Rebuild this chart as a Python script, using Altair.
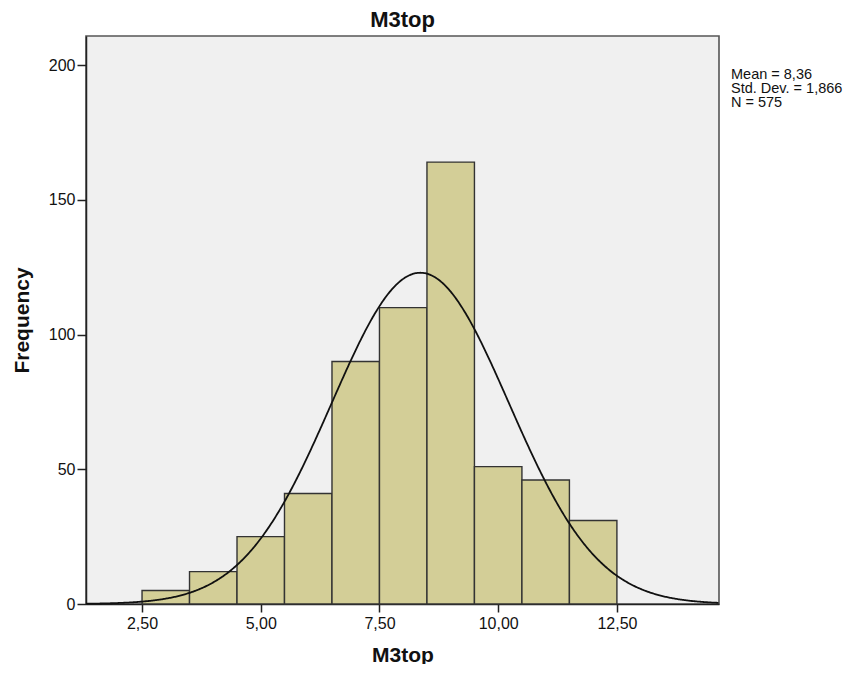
import altair as alt
import pandas as pd

# ---- data ----
bin_starts = [2.5, 3.5, 4.5, 5.5, 6.5, 7.5, 8.5, 9.5, 10.5, 11.5]
bin_ends = [3.5, 4.5, 5.5, 6.5, 7.5, 8.5, 9.5, 10.5, 11.5, 12.5]
counts = [5, 12, 25, 41, 90, 110, 164, 51, 46, 31]
x_ticks = [2.5, 5.0, 7.5, 10.0, 12.5]
y_ticks = [0, 50, 100, 150, 200]
mean_val = 8.36
sd_val = 1.866
n_val = 575
bin_width = 1.0

x_domain = [1.32, 14.65]
y_domain = [0, 210.8]

bars_df = pd.DataFrame({"start": bin_starts, "end": bin_ends, "count": counts, "base": [0] * len(counts)})

fmt = lambda v, d: f"{v:.{d}f}".replace(".", ",")
stats_df = pd.DataFrame({
    "label": [f"Mean = {fmt(mean_val, 2)}\nStd. Dev. = {fmt(sd_val, 3)}\nN = {n_val}"]
})

xscale = alt.Scale(domain=x_domain, nice=False, zero=False)
yscale = alt.Scale(domain=y_domain, nice=False)

x_axis = alt.Axis(
    values=x_ticks,
    labelExpr="replace(format(datum.value, '.2f'), '.', ',')",
    title="M3top",
    grid=False,
)
y_axis = alt.Axis(values=y_ticks, title="Frequency", grid=False)

bars = alt.Chart(bars_df).mark_rect(
    color="#D3CE97", stroke="#333333", strokeWidth=1.4
).encode(
    x=alt.X("start:Q", scale=xscale, axis=x_axis),
    x2="end:Q",
    y=alt.Y("count:Q", scale=yscale, axis=y_axis),
    y2="base:Q",
)

curve = alt.Chart(alt.sequence(x_domain[0], x_domain[1] + 0.01, 0.02, as_="xv")).transform_calculate(
    yv=f"{n_val}*{bin_width}*exp(-0.5*pow((datum.xv-{mean_val})/{sd_val},2))/({sd_val}*sqrt(2*PI))"
).mark_line(color="#111111", strokeWidth=1.8).encode(
    x=alt.X("xv:Q", scale=xscale),
    y=alt.Y("yv:Q", scale=yscale),
)

stats = alt.Chart(stats_df).mark_text(
    align="left", baseline="alphabetic", lineBreak="\n", lineHeight=14,
    fontSize=14.5, font="Liberation Sans", color="#111111"
).encode(
    x=alt.value(645),
    y=alt.value(42.7),
    text="label:N",
)

chart = alt.layer(bars, curve, stats).properties(
    width=633,
    height=568,
    title=alt.TitleParams("M3top", fontSize=22, font="Liberation Sans", fontWeight="bold",
                          color="#111111", offset=4),
    autosize=alt.AutoSizeParams(type="none"),
    padding={"left": 78, "top": 28, "right": 129, "bottom": 60},
).configure(
    font="Liberation Sans",
).configure_view(
    fill="#F0F0F0", stroke="#555555", strokeWidth=1.6
).configure_axis(
    labelFont="Liberation Sans", labelFontSize=16, labelColor="#111111",
    titleFont="Liberation Sans", titleFontSize=21, titleFontWeight="bold", titleColor="#111111",
    domainColor="#222222", domainWidth=1.5, tickColor="#222222", tickWidth=1.5,
).configure_axisX(
    tickSize=8, labelPadding=3, titlePadding=13,
).configure_axisY(
    tickSize=9, labelPadding=2, titlePadding=16,
)

chart.save("out.html", embed_options={"renderer": "svg", "actions": False})
